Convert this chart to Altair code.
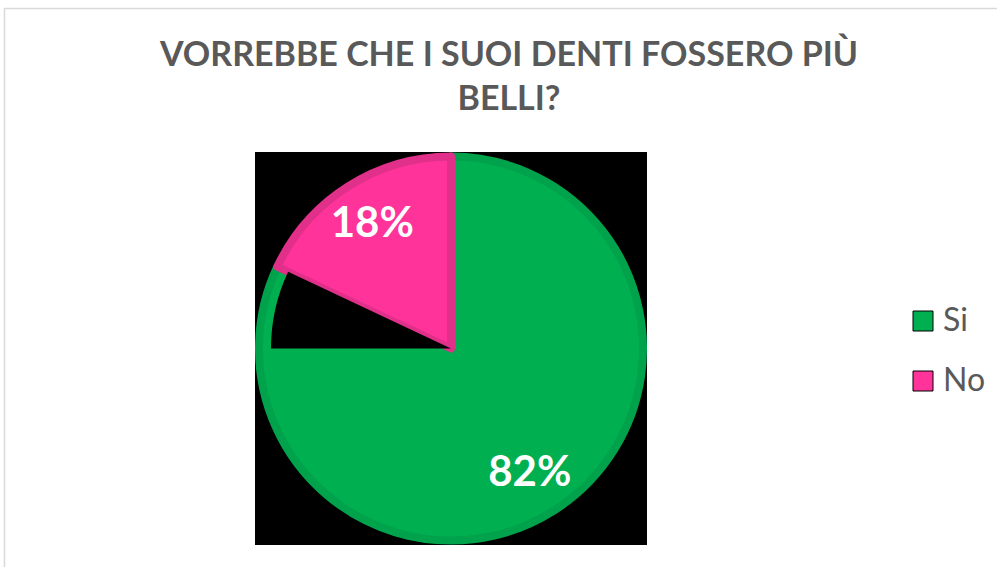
import math
import altair as alt
import pandas as pd

# ---- data ----
categories = ["Si", "No"]
values = [82, 18]
labels = ["82%", "18%"]
order = [1, 2]
fill_colors = ["#00B050", "#FF3399"]
edge_colors = ["#00A24C", "#E0308A"]
title_lines = ["VORREBBE CHE I SUOI DENTI FOSSERO PIÙ", "BELLI?"]

df = pd.DataFrame({"category": categories, "value": values, "label": labels,
                   "order": order, "edge": edge_colors})

total = sum(values)
notch_start = 1.5 * math.pi
notch_end = 2 * math.pi * values[0] / total

W, H = 392, 393
PAD_L, PAD_T = 255, 152
TEXT_GREY = "#595959"
one = pd.DataFrame({"k": [0]})

bg = alt.Chart(one).mark_rect(fill="black").encode(
    x=alt.value(0), x2=alt.value(W), y=alt.value(0), y2=alt.value(H)
)

frame = alt.Chart(one).mark_rect(filled=False, stroke="#D9D9D9", strokeWidth=1.5).encode(
    x=alt.value(-250.5), y=alt.value(-143.5), x2=alt.value(760), y2=alt.value(440)
)

pie = alt.Chart(df).mark_arc(outerRadius=192, strokeWidth=8, strokeJoin="round").encode(
    theta=alt.Theta("value:Q", stack=True),
    color=alt.Color(
        "category:N",
        scale=alt.Scale(domain=categories, range=fill_colors),
        sort=categories,
        legend=alt.Legend(
            title=None,
            orient="none",
            legendX=652,
            legendY=153,
            symbolType="square",
            symbolSize=400,
            symbolStrokeColor="black",
            symbolStrokeWidth=1,
            labelFont="Lato",
            labelFontSize=32,
            labelColor=TEXT_GREY,
            labelOffset=4,
            rowPadding=28,
        ),
    ),
    stroke=alt.Stroke("edge:N", scale=None),
    order=alt.Order("order:Q"),
)

notch = alt.Chart(one).mark_arc(color="black", outerRadius=180, innerRadius=0).encode(
    theta=alt.value(notch_start), theta2=alt.value(notch_end)
)

text = alt.Chart(df).mark_text(radius=147, font="Lato", fontWeight="bold", fontSize=42, color="white").encode(
    theta=alt.Theta("value:Q", stack=True),
    text="label:N",
    order=alt.Order("order:Q"),
)

title_df = pd.DataFrame({"line": title_lines, "y": [-86, -42]})
title = alt.Chart(title_df).mark_text(
    font="Lato", fontWeight="bold", fontSize=34, color=TEXT_GREY,
    align="center", baseline="alphabetic",
).encode(text="line:N", x=alt.value(254), y=alt.Y("y:Q", scale=None))

chart = (
    alt.layer(frame, bg, pie, notch, text, title)
    .properties(
        width=W,
        height=H,
        padding={"left": PAD_L, "top": PAD_T, "right": 997 - PAD_L - W, "bottom": 567 - PAD_T - H},
        autosize=alt.AutoSizeParams(type="none"),
        background="white",
    )
    .configure_view(stroke=None)
)

chart.save("out.html", embed_options={"renderer": "svg", "actions": False})
